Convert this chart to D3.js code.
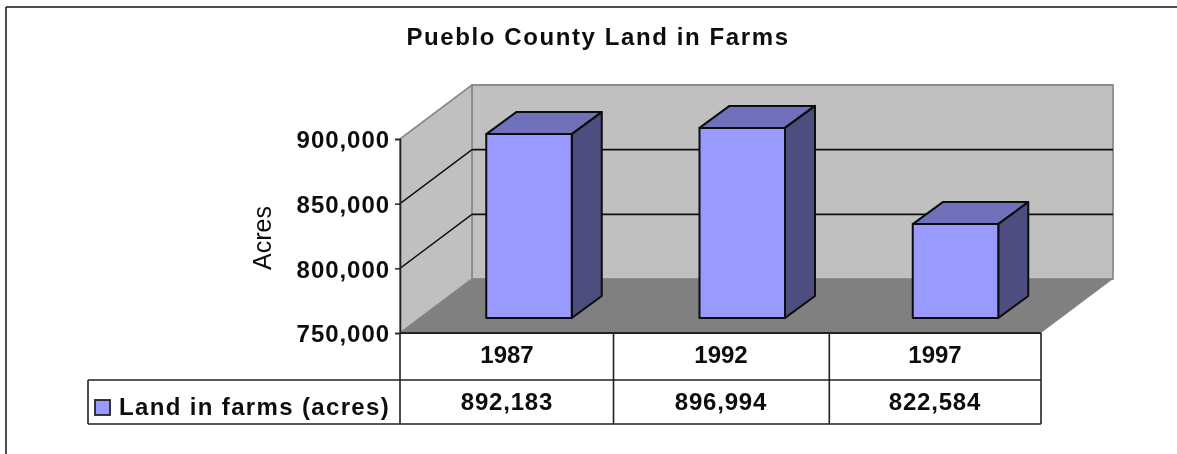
<!DOCTYPE html>
<html><head><meta charset="utf-8">
<script src="https://cdn.jsdelivr.net/npm/d3@7/dist/d3.min.js"></script>
<style>
html,body{margin:0;padding:0;background:#fff}
svg{display:block}
text{font-family:"Liberation Sans",Arial,sans-serif;fill:#111;font-weight:bold}
</style></head><body>
<svg id="c" width="1177" height="454"></svg>
<script>
const categories=["1987","1992","1997"];
const landInFarms=[892183,896994,822584];
const tickValues=[750000,800000,850000,900000];
const seriesName="Land in farms (acres)";
const titleText="Pueblo County Land in Farms";
const axisTitle="Acres";

const W=1177,H=454;
const svg=d3.select("#c");
const defs=svg.append("defs");
defs.append("filter").attr("id","soft").attr("x","-2%").attr("y","-2%").attr("width","104%").attr("height","104%")
  .append("feGaussianBlur").attr("stdDeviation",0.55);
const root=svg.append("g").attr("filter","url(#soft)");

const x0=400,x1=1041,yTop=139,yBot=333;
const backDx=72,backDy=-54;
const barDy=-15,depthDx=30,depthDy=-22;
const rowY=[333,380,424],legendLeft=88,cellDividers=[613.5,829.3];

const y=d3.scaleLinear().domain([750000,900000]).range([yBot,yTop]);
const xLabel=d3.scalePoint().domain(categories).range([507,935]);
const xBar=d3.scalePoint().domain(categories).range([529,955.5]);
const barW=85.5;

const poly=(pts,fill,stroke,sw)=>root.append("polygon").attr("points",pts.map(p=>p.join(",")).join(" "))
  .attr("fill",fill).attr("stroke",stroke||"none").attr("stroke-width",sw||0).attr("stroke-linejoin","round");
const line=(a,b,c,d,col,sw)=>root.append("line").attr("x1",a).attr("y1",b).attr("x2",c).attr("y2",d).attr("stroke",col).attr("stroke-width",sw);

// frame
line(6,7,W,7,"#111",1.6);
line(6,7,6,H,"#222",1.6);

// walls and floor
poly([[x0+backDx,yTop+backDy],[x1+backDx,yTop+backDy],[x1+backDx,yBot+backDy],[x0+backDx,yBot+backDy]],"#c0c0c0","#8c8c8c",1.8);
poly([[x0,yTop],[x0+backDx,yTop+backDy],[x0+backDx,yBot+backDy],[x0,yBot]],"#c0c0c0","#8c8c8c",1.8);
poly([[x0,yBot],[x0+backDx,yBot+backDy],[x1+backDx,yBot+backDy],[x1,yBot]],"#808080");

// gridlines
tickValues.filter(v=>v>750000&&v<900000).forEach(v=>{
  line(x0,y(v),x0+backDx,y(v)+backDy,"#111",1.4);
  line(x0+backDx,y(v)+backDy,x1+backDx,y(v)+backDy,"#111",1.6);
});

// y axis
const yAxis=root.append("g").attr("transform",`translate(${x0},0)`)
  .call(d3.axisLeft(y).tickValues(tickValues).tickFormat(d3.format(",")).tickSize(5).tickPadding(5));
yAxis.select(".domain").attr("stroke","#222").attr("stroke-width",1.6);
yAxis.selectAll(".tick line").attr("stroke","#222").attr("stroke-width",1.5);
yAxis.selectAll("text").attr("y",1).style("font-size","24px").style("letter-spacing","0.95px").style("font-family","'Liberation Sans'").style("font-weight","bold").attr("fill","#111");

// bars
categories.forEach((c,i)=>{
  const l=xBar(c)-barW/2,r=l+barW,b=yBot+barDy,t=y(landInFarms[i])+barDy;
  poly([[l,t],[l+depthDx,t+depthDy],[r+depthDx,t+depthDy],[r,t]],"#7070bb","#0a0a0a",2);
  poly([[r,t],[r+depthDx,t+depthDy],[r+depthDx,b+depthDy],[r,b]],"#4d4d80","#0a0a0a",2);
  poly([[l,t],[r,t],[r,b],[l,b]],"#9999ff","#0a0a0a",2);
});

// data table
const tc="#222";
line(x0,rowY[0],x1,rowY[0],tc,2);
line(legendLeft,rowY[1],x1,rowY[1],tc,1.6);
line(legendLeft,rowY[2],x1,rowY[2],tc,1.6);
line(legendLeft,rowY[1],legendLeft,rowY[2],tc,1.6);
line(x0,yBot,x0,rowY[2],tc,1.6);
line(x1,yBot,x1,rowY[2],tc,1.6);
cellDividers.forEach(d=>line(d,rowY[0],d,rowY[2],tc,1.6));
const fmt=d3.format(",");
categories.forEach((c,i)=>{
  const cx=xLabel(c);
  root.append("text").attr("x",cx).attr("y",363).attr("text-anchor","middle").style("font-size","24px").text(c);
  root.append("text").attr("x",cx).attr("y",410).attr("text-anchor","middle").style("font-size","24px").style("letter-spacing","0.8px").text(fmt(landInFarms[i]));
});
root.append("rect").attr("x",95).attr("y",400).attr("width",15).attr("height",15).attr("fill","#9999ff").attr("stroke","#222").attr("stroke-width",1.8);
root.append("text").attr("x",119).attr("y",415).style("font-size","24px").style("letter-spacing","1.35px").text(seriesName);

// title + axis title
root.append("text").attr("x",598).attr("y",45).attr("text-anchor","middle").style("font-size","24px").style("letter-spacing","1.6px").text(titleText);
root.append("text").attr("transform","translate(271,238) rotate(-90)").attr("text-anchor","middle").style("font-size","25px").style("font-weight","normal").text(axisTitle);
</script>
</body></html>
